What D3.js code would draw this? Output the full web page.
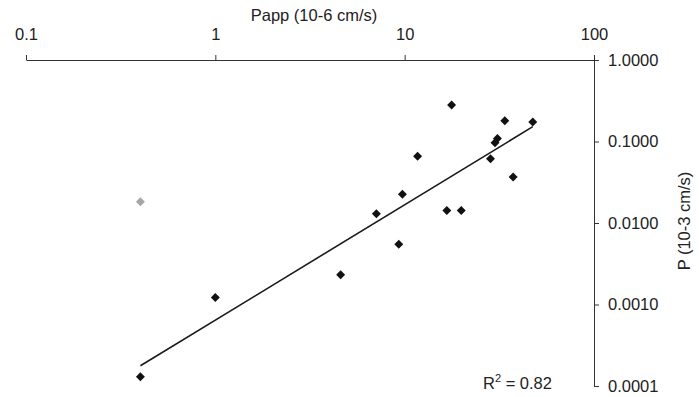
<!DOCTYPE html>
<html>
<head>
<meta charset="utf-8">
<script src="https://cdn.jsdelivr.net/npm/d3@7"></script>
<style>
  body { margin: 0; background: #fff; }
  svg text { font-family: "Liberation Sans", Arial, sans-serif; fill: #222; }
</style>
</head>
<body>
<div id="chart"></div>
<script>
// svg parameters
var svgWidth = 699;
var svgHeight = 397;

// data
var pappValues = [1.0, 4.59, 7.09, 9.31, 9.73, 11.7, 16.7, 17.7, 19.9, 28.4, 30.0, 30.9, 33.8, 37.4, 47.5, 0.402];
var pValues = [0.00122, 0.00232, 0.0130, 0.00548, 0.0225, 0.0658, 0.0142, 0.280, 0.0142, 0.0615, 0.0967, 0.109, 0.180, 0.0367, 0.1735, 0.000130];
var outlierPapp = [0.402];
var outlierP = [0.0182];
var trendPapp = [0.402, 47.5];
var trendP = [0.000177, 0.152];
var xTicks = [0.1, 1, 10, 100];
var yTicks = [1, 0.1, 0.01, 0.001, 0.0001];
var rSquared = "0.82";

var plot = {"left": 26, "right": 594, "top": 60, "bottom": 386};

var svg = d3.select("#chart").append("svg")
  .attr("width", svgWidth)
  .attr("height", svgHeight);

var xScale = d3.scaleLog().domain([0.1, 100]).range([plot.left, plot.right]);
var yScale = d3.scaleLog().domain([0.0001, 1]).range([plot.bottom, plot.top]);

// axes
var xAxis = d3.axisTop(xScale)
  .tickValues(xTicks)
  .tickFormat(function(d) { return d >= 1 ? d3.format("d")(d) : String(d); })
  .tickSize(5)
  .tickSizeOuter(0)
  .tickPadding(15);

var gx = svg.append("g")
  .attr("transform", "translate(0," + plot.top + ")")
  .call(xAxis);

var yAxis = d3.axisRight(yScale)
  .tickValues(yTicks)
  .tickFormat(d3.format(".4f"))
  .tickSize(5)
  .tickSizeOuter(0)
  .tickPadding(9);

var gy = svg.append("g")
  .attr("transform", "translate(" + plot.right + ",0)")
  .call(yAxis);

svg.selectAll(".domain, .tick line").attr("stroke", "#333").attr("stroke-width", 1);
svg.selectAll(".tick text").attr("font-size", 16.5).attr("fill", "#222")
  .style("font-family", "'Liberation Sans', Arial, sans-serif");

// axis titles
svg.append("text")
  .attr("x", 314)
  .attr("y", 21)
  .attr("text-anchor", "middle")
  .attr("font-size", 16.5)
  .text("Papp (10-6 cm/s)");

svg.append("text")
  .attr("transform", "translate(690,221) rotate(-90)")
  .attr("text-anchor", "middle")
  .attr("font-size", 16.5)
  .text("P (10-3 cm/s)");

// trendline
var line = d3.line()
  .x(function(d) { return xScale(d[0]); })
  .y(function(d) { return yScale(d[1]); });

svg.append("path")
  .datum(d3.zip(trendPapp, trendP))
  .attr("d", line)
  .attr("fill", "none")
  .attr("stroke", "#1a1a1a")
  .attr("stroke-width", 1.6);

// points
var diamond = d3.symbol().type(d3.symbolSquare).size(40);

svg.selectAll(".outlier")
  .data(d3.zip(outlierPapp, outlierP))
  .enter()
  .append("path")
  .attr("class", "outlier")
  .attr("d", diamond)
  .attr("transform", function(d) { return "translate(" + xScale(d[0]) + "," + yScale(d[1]) + ") rotate(45)"; })
  .attr("fill", "#a6a6a6");

svg.selectAll(".pt")
  .data(d3.zip(pappValues, pValues))
  .enter()
  .append("path")
  .attr("class", "pt")
  .attr("d", diamond)
  .attr("transform", function(d) { return "translate(" + xScale(d[0]) + "," + yScale(d[1]) + ") rotate(45)"; })
  .attr("fill", "#111");

// R squared
var rText = svg.append("text")
  .attr("x", 483)
  .attr("y", 389)
  .attr("font-size", 16.5);
rText.append("tspan").text("R");
rText.append("tspan").attr("dy", -7).attr("font-size", 11).text("2");
rText.append("tspan").attr("dy", 7).text(" = " + rSquared);
</script>
</body>
</html>
